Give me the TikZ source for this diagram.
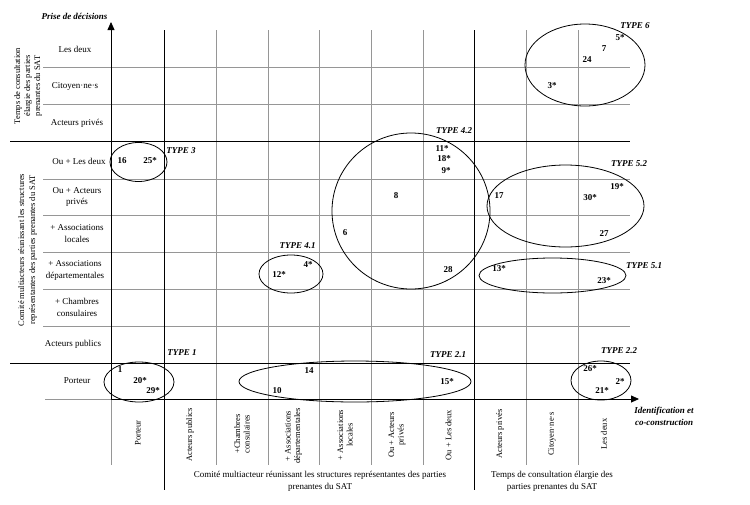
\documentclass[tikz,border=0pt]{standalone}
\usepackage{fontspec}
\setmainfont{Liberation Serif}
\usetikzlibrary{arrows.meta}
\definecolor{gridgray}{RGB}{150,150,150}
\begin{document}
\begin{tikzpicture}[x=1pt,y=-1pt,
  gridline/.style={draw=gridgray, line width=0.6pt},
  blkline/.style={draw=black, line width=0.8pt},
  axisarrow/.style={draw=black, line width=0.8pt, -{Triangle[length=8pt,width=7pt]}},
  rowlab/.style={font=\fontsize{9}{11.5}\selectfont, align=center, inner sep=0pt},
  collab/.style={font=\fontsize{8.5}{9.5}\selectfont, align=center, rotate=90, inner sep=0pt},
  sidelab/.style={font=\fontsize{8.5}{10}\selectfont, align=center, rotate=90, inner sep=0pt},
  caplab/.style={font=\fontsize{9}{12}\selectfont, align=center, inner sep=0pt},
  axlab/.style={font=\fontsize{9}{12}\selectfont\bfseries\itshape, align=center, inner sep=0pt},
  num/.style={font=\fontsize{9}{10}\selectfont\bfseries, inner sep=0pt},
  typ/.style={font=\fontsize{9}{10}\selectfont\bfseries\itshape, inner sep=0pt},
  grp/.style={draw=black, line width=0.8pt}
]
\useasboundingbox (0,0) rectangle (750,504);

% gray vertical grid lines
\foreach \x in {216,268,319,371,423,526,578}
  \draw[gridline] (\x,30) -- (\x,465);
% gray horizontal grid lines
\foreach \y in {67,104,179,215,252,289,326}
  \draw[gridline] (43,\y) -- (630,\y);
% black separators
\draw[blkline] (164,30) -- (164,490);
\draw[blkline] (474,30) -- (474,490);
\draw[blkline] (10,141) -- (630,141);
\draw[blkline] (10,363) -- (630,363);
% axes
\coordinate (o) at (111,399);
\coordinate (ytop) at (111,22);
\coordinate (xend) at (639,399);
\coordinate (ybot) at (111,465);
\coordinate (xleft) at (45,399);
\draw[gridline] (o) -- (ybot);
\draw[gridline] (xleft) -- (o);
\draw[axisarrow] (o) -- (ytop);
\draw[axisarrow] (o) -- (xend);

% axis titles
\node[axlab] (ytitle) at (74.5,16) {Prise de décisions};
\node[axlab] (xtitle) at (664,416) {Identification et\\co-construction};

% side labels
\node[sidelab] (sideA) at (28,86) {Temps de consultation\\élargie des parties\\prenantes du SAT};
\node[sidelab, font=\fontsize{8.5}{11}\selectfont] (sideB) at (27.5,250) {Comité multiacteurs réunissant les structures\\représentantes des parties prenantes du SAT};

% row labels
\node[rowlab] (r1) at (75,49) {Les deux};
\node[rowlab] (r2) at (75,86) {Citoyen·ne·s};
\node[rowlab] (r3) at (77,123) {Acteurs privés};
\node[rowlab] (r4) at (79,161) {Ou + Les deux};
\node[rowlab] (r5) at (77,197) {Ou + Acteurs\\privés};
\node[rowlab] (r6) at (77,233.5) {+ Associations\\locales};
\node[rowlab] (r7) at (75,270.5) {+ Associations\\départementales};
\node[rowlab] (r8) at (77,307.5) {+ Chambres\\consulaires};
\node[rowlab] (r9) at (73,344) {Acteurs publics};
\node[rowlab] (r10) at (77,381) {Porteur};

% column labels
\node[collab] (c1) at (138,433) {Porteur};
\node[collab] (c2) at (190,435) {Acteurs publics};
\node[collab] (c3) at (242,434) {+Chambres\\consulaires};
\node[collab] (c4) at (293.5,436) {+ Associations\\départementales};
\node[collab] (c5) at (345,435) {+ Associations\\locales};
\node[collab] (c6) at (397,435) {Ou + Acteurs\\privés};
\node[collab] (c7) at (448.5,435) {Ou + Les deux};
\node[collab] (c8) at (500,434) {Acteurs privés};
\node[collab] (c9) at (552,434) {Citoyen·ne·s};
\node[collab] (c10) at (604,434) {Les deux};

% captions
\node[caplab] (capA) at (320,481) {Comité multiacteur réunissant les structures représentantes des parties\\prenantes du SAT};
\node[caplab] (capB) at (552,481) {Temps de consultation élargie des\\parties prenantes du SAT};

% TYPE 3
\draw[grp] (138.5,162) ellipse [x radius=28.5pt, y radius=19.5pt];
\node[num] (n16) at (122,161) {16};
\node[num] (n25) at (150,161) {25*};
\node[typ] (t3) at (181,151) {TYPE 3};

% TYPE 1
\draw[grp] (139,382) ellipse [x radius=35pt, y radius=20pt];
\node[num] (n1) at (120,370) {1};
\node[num] (n20) at (140,381) {20*};
\node[num] (n29) at (153,391) {29*};
\node[typ] (t1) at (182,353) {TYPE 1};

% TYPE 2.1
\draw[grp] (355,381.5) ellipse [x radius=116pt, y radius=20.5pt];
\node[num] (n14) at (309,371) {14};
\node[num] (n10) at (277,391) {10};
\node[num] (n15) at (447,382) {15*};
\node[typ] (t21) at (448,355) {TYPE 2.1};

% TYPE 2.2
\draw[grp] (601,380.5) ellipse [x radius=30pt, y radius=19.5pt];
\node[num] (n26) at (590,369) {26*};
\node[num] (n2) at (620,382) {2*};
\node[num] (n21) at (602,391) {21*};
\node[typ] (t22) at (619,351) {TYPE 2.2};

% TYPE 4.1
\draw[grp] (291,274) ellipse [x radius=32pt, y radius=19pt];
\node[num] (n4) at (308,265) {4*};
\node[num] (n12) at (279,275) {12*};
\node[typ] (t41) at (297.5,246) {TYPE 4.1};

% TYPE 4.2
\draw[grp] (411,211) ellipse [x radius=79pt, y radius=78pt];
\node[num] (n11) at (442,149) {11*};
\node[num] (n18) at (444,159) {18*};
\node[num] (n9) at (446,171) {9*};
\node[num] (n8) at (396,196) {8};
\node[num] (n6) at (345,233) {6};
\node[num] (n28) at (448,270) {28};
\node[typ] (t42) at (454,131) {TYPE 4.2};

% TYPE 5.2
\draw[grp] (565.5,206) ellipse [x radius=78.5pt, y radius=41pt];
\node[num] (n17) at (499,196) {17};
\node[num] (n30) at (590,198) {30*};
\node[num] (n19) at (617,187) {19*};
\node[num] (n27) at (604,234) {27};
\node[typ] (t52) at (629,164) {TYPE 5.2};

% TYPE 5.1
\draw[grp] (552.5,275.5) ellipse [x radius=73.5pt, y radius=17.5pt];
\node[num] (n13) at (499,269) {13*};
\node[num] (n23) at (604,281) {23*};
\node[typ] (t51) at (644,266) {TYPE 5.1};

% TYPE 6
\draw[grp] (585,65) ellipse [x radius=60pt, y radius=41pt];
\node[num] (n5) at (620,38) {5*};
\node[num] (n7) at (604,49) {7};
\node[num] (n24) at (587,60) {24};
\node[num] (n3) at (552,86) {3*};
\node[typ] (t6) at (635,26) {TYPE 6};
\end{tikzpicture}
\end{document}
